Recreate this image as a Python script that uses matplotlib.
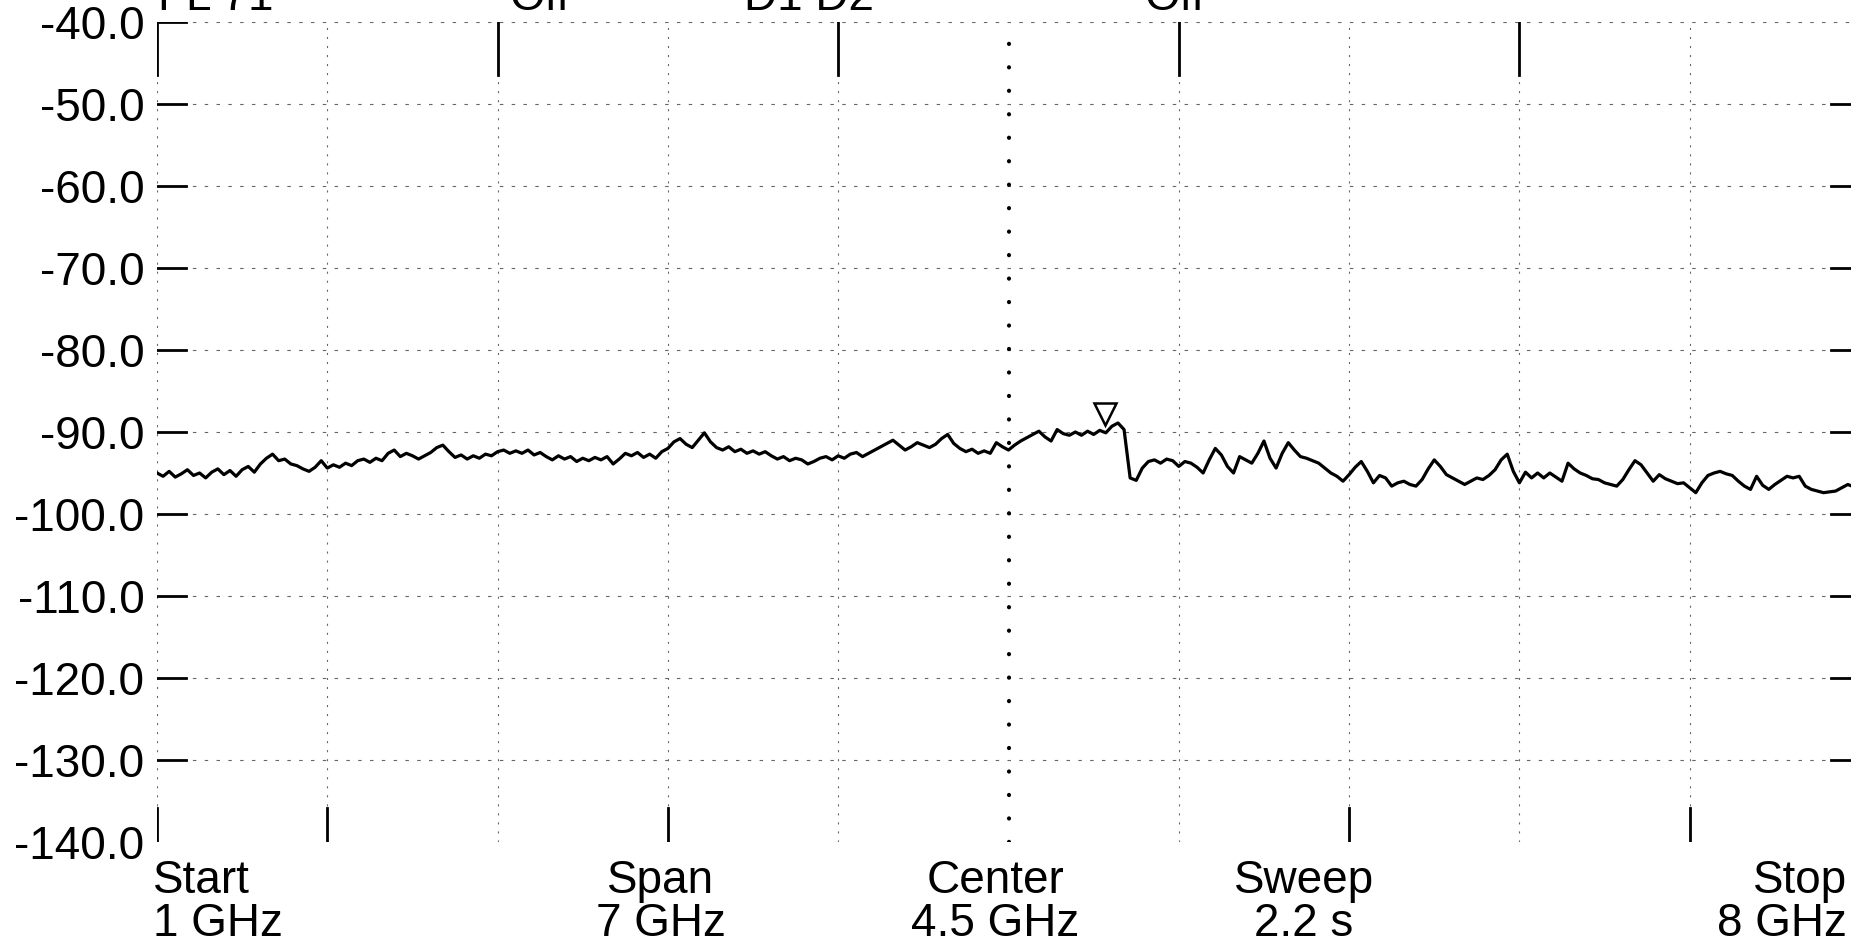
import matplotlib
matplotlib.use('Agg')
import matplotlib.pyplot as plt
import numpy as np

plt.rcParams['lines.scale_dashes'] = False
plt.rcParams['font.family'] = ['Liberation Sans', 'DejaVu Sans']

# sweep settings
start_ghz = 1.0
stop_ghz = 8.0

# trace, evenly spaced sweep points (dBm)
level_dbm = [
    -95.0, -95.4, -94.8, -95.5, -95.1, -94.6, -95.3, -95.0, -95.6, -94.9,
    -94.5, -95.2, -94.7, -95.4, -94.6, -94.2, -94.9, -93.9, -93.2, -92.7,
    -93.5, -93.3, -93.9, -94.1, -94.5, -94.8, -94.3, -93.5, -94.4, -94.0,
    -94.3, -93.8, -94.1, -93.5, -93.3, -93.7, -93.2, -93.5, -92.6, -92.2,
    -93.0, -92.6, -92.9, -93.3, -92.9, -92.5, -91.9, -91.6, -92.4, -93.1,
    -92.8, -93.3, -92.9, -93.2, -92.7, -92.9, -92.4, -92.2, -92.6, -92.3,
    -92.6, -92.2, -92.8, -92.5, -93.0, -93.4, -92.9, -93.3, -93.0, -93.6,
    -93.2, -93.5, -93.1, -93.4, -93.0, -93.9, -93.3, -92.6, -92.9, -92.5,
    -93.1, -92.7, -93.2, -92.4, -92.0, -91.2, -90.8, -91.5, -91.9, -91.0,
    -90.1, -91.2, -91.9, -92.2, -91.8, -92.4, -92.1, -92.6, -92.3, -92.7,
    -92.4, -92.9, -93.3, -93.0, -93.5, -93.2, -93.4, -93.9, -93.6, -93.2,
    -93.0, -93.4, -92.9, -93.2, -92.7, -92.5, -93.0, -92.6, -92.2, -91.8,
    -91.4, -91.0, -91.6, -92.2, -91.8, -91.3, -91.6, -91.9, -91.5, -90.8,
    -90.3, -91.4, -92.0, -92.4, -92.1, -92.6, -92.3, -92.6, -91.3, -91.8,
    -92.2, -91.6, -91.1, -90.7, -90.3, -89.9, -90.6, -91.1, -89.7, -90.2,
    -90.4, -90.0, -90.4, -89.9, -90.3, -89.8, -90.1, -89.3, -88.9, -89.7,
    -95.6, -95.9, -94.4, -93.6, -93.4, -93.8, -93.3, -93.5, -94.2, -93.6,
    -93.8, -94.3, -95.0, -93.4, -92.0, -92.8, -94.2, -95.0, -93.0, -93.4,
    -93.8, -92.6, -91.1, -93.2, -94.4, -92.6, -91.3, -92.2, -93.0, -93.2,
    -93.5, -93.8, -94.4, -95.0, -95.4, -96.0, -95.2, -94.3, -93.6, -94.8,
    -96.2, -95.3, -95.6, -96.6, -96.2, -96.0, -96.4, -96.6, -95.8, -94.5,
    -93.4, -94.2, -95.2, -95.6, -96.0, -96.4, -96.0, -95.6, -95.8, -95.3,
    -94.6, -93.4, -92.7, -94.8, -96.2, -94.9, -95.6, -95.0, -95.6, -95.0,
    -95.5, -96.0, -93.8, -94.5, -95.0, -95.3, -95.7, -95.8, -96.2, -96.4,
    -96.6, -95.8, -94.6, -93.5, -94.0, -95.0, -96.0, -95.2, -95.7, -96.0,
    -96.3, -96.2, -96.8, -97.4, -96.2, -95.3, -95.0, -94.8, -95.1, -95.3,
    -96.0, -96.6, -97.0, -95.4, -96.5, -97.0, -96.4, -95.9, -95.4, -95.6,
    -95.4, -96.6, -97.0, -97.2, -97.4, -97.3, -97.2, -96.8, -96.4, -96.7,
    -96.5,
]

# marker triangle (sits just above the peak before the step)
marker_ghz = 4.895
marker_dbm = -87.8

ref_levels = [-40.0, -50.0, -60.0, -70.0, -80.0, -90.0,
              -100.0, -110.0, -120.0, -130.0, -140.0]
y_labels = ['-40.0', '-50.0', '-60.0', '-70.0', '-80.0', '-90.0',
            '-100.0', '-110.0', '-120.0', '-130.0', '-140.0']
x_divs = [1.0, 1.7, 2.4, 3.1, 3.8, 4.5, 5.2, 5.9, 6.6, 7.3, 8.0]
center_ghz = 4.5

footer_top = ['Start', 'Span', 'Center', 'Sweep', 'Stop']
footer_bot = ['1 GHz', '7 GHz', '4.5 GHz', '2.2 s', '8 GHz']
header = ['FL 71', 'Off', 'D1 D2', 'Off']

W, H = 1851, 944
fig = plt.figure(figsize=(W / 100, H / 100), dpi=100)
fig.patch.set_facecolor('white')
ax = fig.add_axes([157 / W, 1 - 842 / H, 1703 / W, 820 / H])
ax.set_xlim(start_ghz, stop_ghz)
ax.set_ylim(-140, -40)
for s in ax.spines.values():
    s.set_visible(False)

grid_kw = dict(color='0.4', lw=0.8, zorder=1)

# horizontal graticule + short solid stubs at both ends
for y in ref_levels[:-1]:
    ax.plot([start_ghz, stop_ghz], [y, y], ls=(0, (2.5, 6)), **grid_kw)
    ax.plot([start_ghz, start_ghz + 0.12], [y, y], color='black', lw=2.0, zorder=2)
    if y != -40.0:
        ax.plot([stop_ghz - 0.12, stop_ghz], [y, y], color='black', lw=2.0, zorder=2)

# vertical graticule with plotter stubs at top / bottom
for k, x in enumerate(x_divs):
    if x == center_ghz:
        continue
    ax.plot([x, x], [-140, -40], ls=(0, (1.5, 5)), **grid_kw)
    if k % 2 == 0:
        ax.plot([x, x], [-40, -46.5], color='black', lw=2.0, zorder=2)
    if k % 2 == 1 or k == 0:
        ax.plot([x, x], [-140, -135.8], color='black', lw=2.0, zorder=2)

# centre line drawn as big dots
ax.plot([center_ghz, center_ghz], [-140, -40], color='black', lw=3.0,
        ls=(0, (0.1, 16.8)), dash_capstyle='round', zorder=2)

freq = np.linspace(start_ghz, stop_ghz, len(level_dbm))
ax.plot(freq, level_dbm, color='black', lw=2.3, zorder=3)
ax.plot(marker_ghz, marker_dbm, marker='v', ms=16, mfc='white', mec='black',
        mew=1.8, zorder=4)

ax.set_xticks([])
ax.set_yticks(ref_levels)
ax.set_yticklabels(y_labels, fontsize=33)
ax.tick_params(axis='y', length=0, pad=9)

# footer annotations
fs = 33
x_pos = [153 / W, 661 / W, 995 / W, 1304 / W, 1847 / W]
aligns = ['left', 'center', 'center', 'center', 'right']
for xp, ha, t1, t2 in zip(x_pos, aligns, footer_top, footer_bot):
    fig.text(xp, 1 - 881 / H, t1, ha=ha, va='center', fontsize=fs)
    fig.text(xp, 1 - 924 / H, t2, ha=ha, va='center', fontsize=fs)

# header line, mostly cut off by the page edge
hx = [158 / W, 510 / W, 744 / W, 1145 / W]
for xp, t in zip(hx, header):
    fig.text(xp, 1 - 10 / H, t, ha='left', va='baseline', fontsize=fs)

fig.savefig('out.png', dpi=100, facecolor='white')
